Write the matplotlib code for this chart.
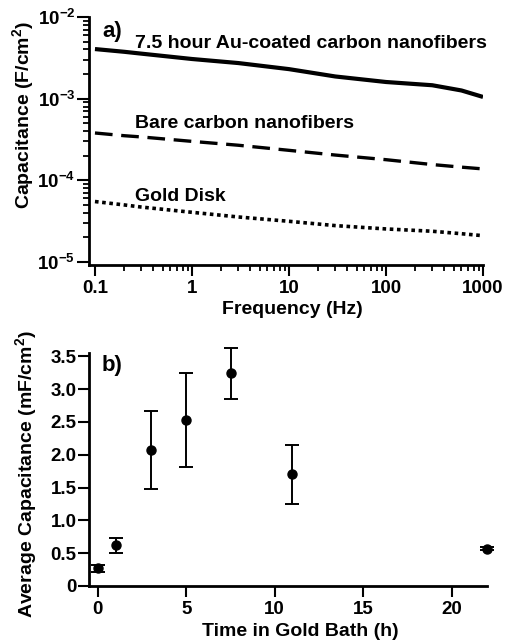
import matplotlib
matplotlib.use("Agg")
import matplotlib.pyplot as plt
from matplotlib.ticker import FixedLocator, FixedFormatter, NullFormatter

plt.rcParams['font.family'] = ['Liberation Sans', 'DejaVu Sans']
plt.rcParams['font.weight'] = 'bold'
plt.rcParams['mathtext.fontset'] = 'custom'
plt.rcParams['mathtext.rm'] = 'Liberation Sans:bold'
plt.rcParams['mathtext.bf'] = 'Liberation Sans:bold'
plt.rcParams['mathtext.default'] = 'bf'

# panel a: capacitance vs frequency
freq = [0.1, 0.2, 0.3, 1, 3, 10, 30, 100, 300, 600, 1000]
cap_au = [4.05e-3, 3.75e-3, 3.56e-3, 3.06e-3, 2.73e-3, 2.30e-3, 1.87e-3, 1.60e-3, 1.46e-3, 1.26e-3, 1.05e-3]
cap_bare = [3.8e-4, 3.52e-4, 3.4e-4, 3.0e-4, 2.69e-4, 2.33e-4, 2.04e-4, 1.79e-4, 1.56e-4, 1.45e-4, 1.38e-4]
cap_gold = [5.5e-5, 5.0e-5, 4.71e-5, 4.06e-5, 3.56e-5, 3.15e-5, 2.79e-5, 2.54e-5, 2.38e-5, 2.22e-5, 2.1e-5]

# panel b: average capacitance vs time in gold bath
t_bath = [0, 1, 3, 5, 7.5, 11, 22]
cap_avg = [0.27, 0.62, 2.07, 2.53, 3.24, 1.70, 0.57]
cap_err = [0.055, 0.115, 0.595, 0.72, 0.39, 0.455, 0.02]

fig = plt.figure(figsize=(5.05, 6.41), dpi=100)
W, H = 505, 641

def px_axes(l, t, r, b):
    return fig.add_axes([l / W, 1 - b / H, (r - l) / W, (b - t) / H])

lw_spine = 2.0
fs = 14
fs_tick = 13.5

# ---------- a)
ax = px_axes(89, 17, 483, 265)
ax.plot(freq, cap_au, color='black', lw=3.0, solid_capstyle='butt')
ax.plot(freq, cap_bare, color='black', lw=2.4, dashes=(5.3, 2.6), dash_capstyle='butt')
ax.plot(freq, cap_gold, color='black', lw=2.6, dashes=(1.0, 1.0), dash_capstyle='butt')
ax.set_xscale('log')
ax.set_yscale('log')
ax.set_xlim(0.0868, 1000)
ax.set_ylim(0.919e-5, 1e-2)

ax.xaxis.set_major_locator(FixedLocator([0.1, 1, 10, 100, 1000]))
ax.xaxis.set_major_formatter(FixedFormatter(['0.1', '1', '10', '100', '1000']))
xminor = [m * 10.0 ** e for e in range(-1, 3) for m in range(2, 10)]
ax.xaxis.set_minor_locator(FixedLocator(xminor))
ax.xaxis.set_minor_formatter(NullFormatter())

ax.yaxis.set_major_locator(FixedLocator([1e-5, 1e-4, 1e-3, 1e-2]))
ax.yaxis.set_major_formatter(FixedFormatter(['$10^{-5}$', '$10^{-4}$', '$10^{-3}$', '$10^{-2}$']))
yminor = [m * 10.0 ** e for e in range(-5, -2) for m in range(2, 10)]
ax.yaxis.set_minor_locator(FixedLocator(yminor))
ax.yaxis.set_minor_formatter(NullFormatter())

ax.tick_params(axis='both', which='major', direction='out', width=1.5, labelsize=fs_tick)
ax.tick_params(axis='x', which='major', length=8, pad=3)
ax.tick_params(axis='y', which='major', length=9, pad=1)
ax.tick_params(axis='both', which='minor', direction='out', width=1.3, length=4.5)

for s in ['top', 'right']:
    ax.spines[s].set_visible(False)
for s in ['left', 'bottom']:
    ax.spines[s].set_linewidth(lw_spine)

ax.text(0.033, 0.941, 'a)', transform=ax.transAxes, fontsize=16, fontweight='bold', va='center', ha='left')
ax.text(0.117, 0.895, '7.5 hour Au-coated carbon nanofibers', transform=ax.transAxes,
        fontsize=fs, fontweight='bold', va='center', ha='left')
ax.text(0.117, 0.569, 'Bare carbon nanofibers', transform=ax.transAxes,
        fontsize=fs, fontweight='bold', va='center', ha='left')
ax.text(0.117, 0.275, 'Gold Disk', transform=ax.transAxes,
        fontsize=fs, fontweight='bold', va='center', ha='left')

fig.text(23 / W, 1 - 115 / H, 'Capacitance (F/cm$^2$)', rotation=90, fontsize=fs,
         fontweight='bold', ha='center', va='center')
fig.text(292 / W, 1 - 310 / H, 'Frequency (Hz)', fontsize=fs,
         fontweight='bold', ha='center', va='center')

# ---------- b)
bx = px_axes(89, 353, 487, 586)
bx.errorbar(t_bath, cap_avg, yerr=cap_err, fmt='o', color='black', ms=6.5,
            elinewidth=1.4, capsize=4.7, capthick=1.4, clip_on=False)
bx.set_xlim(-0.5, 22)
bx.set_ylim(0, 3.55)
bx.xaxis.set_major_locator(FixedLocator([0, 5, 10, 15, 20]))
bx.yaxis.set_major_locator(FixedLocator([0, 0.5, 1.0, 1.5, 2.0, 2.5, 3.0, 3.5]))
bx.yaxis.set_major_formatter(FixedFormatter(['0', '0.5', '1.0', '1.5', '2.0', '2.5', '3.0', '3.5']))
bx.tick_params(axis='both', which='major', direction='out', width=1.5, length=8, labelsize=fs_tick)
bx.tick_params(axis='y', pad=1)
bx.tick_params(axis='x', pad=3)
for s in ['top', 'right']:
    bx.spines[s].set_visible(False)
for s in ['left', 'bottom']:
    bx.spines[s].set_linewidth(lw_spine)

bx.text(0.032, 0.948, 'b)', transform=bx.transAxes, fontsize=16, fontweight='bold', va='center', ha='left')

fig.text(26 / W, 1 - 474 / H, 'Average Capacitance (mF/cm$^2$)', rotation=90, fontsize=fs,
         fontweight='bold', ha='center', va='center')
fig.text(300 / W, 1 - 632 / H, 'Time in Gold Bath (h)', fontsize=fs,
         fontweight='bold', ha='center', va='center')

fig.savefig('out.png', dpi=100)
